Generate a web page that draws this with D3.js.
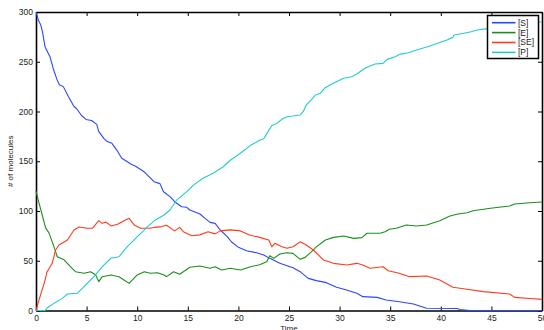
<!DOCTYPE html>
<html>
<head>
<meta charset="utf-8">
<script src="https://cdn.jsdelivr.net/npm/d3@7"></script>
<style>
  html, body { margin: 0; padding: 0; background: #fff; }
  svg { display: block; font-family: 'Liberation Sans', Arial, sans-serif; }
</style>
</head>
<body>
<div id="chart"></div>
<script>
// [time, molecules] pairs
const substrate = [[0,300],[0.23,292],[0.47,287],[0.66,279],[0.89,265],[1.38,255],[1.71,243],[2.04,233],[2.3,227],[2.7,225],[3.2,215],[3.75,205],[4.0,203],[4.5,196],[4.94,192],[5.5,191],[6.0,187],[6.2,180],[6.7,173],[7.0,170],[7.5,168],[8.0,161],[8.47,153],[8.96,150],[9.4,147],[9.85,145],[10.67,139.5],[11.66,129.5],[12.25,127.5],[12.6,119.4],[13.24,114.4],[13.7,109.3],[14.4,104.3],[14.9,103.7],[15.2,101],[16.2,97],[16.7,92.6],[17.2,88.6],[17.7,87.6],[18.2,80.9],[18.9,74.2],[19.3,69.1],[20,63.5],[20.8,60],[21.8,58],[22.5,55.8],[23.1,52.4],[24.1,47.4],[25.1,44],[25.4,43],[26.1,39],[26.9,32.3],[27.7,30],[28.7,28],[29.7,23.3],[30.7,20.6],[31.7,17.3],[32.3,13.9],[33.7,13.2],[34.6,10.6],[35.9,8.8],[37.3,6.5],[37.9,4.5],[38.6,2.2],[41.6,2],[41.9,1],[42.9,0],[50,0]];

const enzyme = [[0,120],[0.3,108],[0.95,83],[1.28,78],[1.78,64],[2.1,54],[2.77,51],[3.4,44],[3.9,39],[4.74,37.4],[5.4,39],[5.9,35.7],[6.2,29],[6.55,34],[7.4,35.7],[8.2,34],[8.7,30.7],[9.2,27.3],[10,35.7],[10.7,39],[11.3,37.4],[12,38],[12.65,35.7],[12.9,34],[13.6,39],[14.2,36.5],[15.2,43.4],[16.2,44.7],[17.2,42.4],[17.7,44],[18.35,40.7],[19.2,42.4],[20.2,40.7],[21.2,44],[22.1,46],[22.8,49],[23.1,55],[23.5,52.4],[24.1,56.8],[24.8,58],[25.4,57.4],[26.1,51.4],[26.6,53.4],[27.2,59],[27.7,64],[28.6,70.9],[29.4,73.5],[30.4,74.9],[31.4,72.5],[32.2,73.2],[32.7,77.6],[34,77.6],[34.5,79.2],[34.9,81.6],[35.6,82.6],[36.6,85.9],[37.6,84.9],[38.6,85.9],[39.9,90.3],[40.9,95],[41.7,97],[42.6,98.3],[43.2,100.3],[44.9,102.7],[46.8,105],[47.3,107],[48.8,108.3],[50,109]];

const complex = [[0,0],[0.3,10.6],[0.8,27],[1.1,39],[1.6,47.4],[1.94,60.8],[2.27,65.8],[3.1,70.9],[3.75,80.9],[4.25,84],[5.07,82.6],[5.57,82.6],[6.2,90.3],[6.55,87.6],[6.9,89],[7.4,85],[8.07,86.6],[8.7,90.3],[9.2,92.6],[9.7,86],[10.34,82.6],[11.2,82.6],[11.66,83.5],[12.25,84],[12.9,85.6],[13.7,80],[14.2,83.5],[14.56,79.2],[15.4,75.2],[16.2,76],[17,79.2],[17.7,77],[18.2,80],[19.2,81],[20.2,80],[21.1,75.9],[22.1,73.5],[23,70.9],[23.3,64],[23.6,67.5],[24.3,64],[24.8,62.5],[25.4,64],[26.1,69],[26.7,65.8],[27.4,60.8],[28.4,50.8],[29.4,47.4],[30.7,45.7],[31.7,47.4],[32.3,45.7],[33,42.4],[34.3,44],[34.8,40],[35.9,37.4],[36.9,34],[38.6,34.7],[39.9,30.7],[41.2,23.3],[42.6,21.3],[44.2,19],[46.8,16.6],[47.3,13.2],[48.8,12],[50,11.2]];

const product = [[0,0],[0.9,0],[1.12,2.8],[1.78,7.2],[2.6,12.2],[3.1,16.6],[4.08,17.3],[4.74,24],[5.73,34],[6.55,44],[7.4,52.5],[8.2,54],[9.0,64],[10,74],[11,84],[11.8,91],[12.65,96],[13.24,101],[13.9,111],[14.9,119.4],[15.55,126],[16.5,132.9],[17.5,137.9],[18.5,144.5],[19.2,151],[20.2,158],[21.2,166],[22.1,171],[22.5,172.6],[23,181],[23.3,186],[23.8,188],[24.4,193],[24.9,195],[25.4,195.5],[26.1,196.5],[26.4,199.8],[26.7,206.5],[27.2,211.6],[27.6,216.6],[28.1,218.3],[28.5,223.3],[29.05,226.6],[29.7,230],[30.4,233.4],[31.2,235],[31.8,238.4],[32.5,243.4],[33.5,247.7],[34.3,248.4],[34.7,252.4],[35.5,255],[36,257.7],[36.8,259],[37.6,261.8],[38.7,265],[39.7,268.5],[40.6,271.9],[41.2,274.5],[41.3,276.9],[42.3,278.6],[43,280.2],[43.6,281.9],[44.4,283],[45.5,285],[47,287],[48.5,288.5],[49.9,290],[50,290]];

const seriesNames = ['[S]', '[E]', '[SE]', '[P]'];
const seriesColors = ['#2b46ff', '#1a8f1a', '#ff3a1a', '#22cccc'];
const xTicks = [0, 5, 10, 15, 20, 25, 30, 35, 40, 45, 50];
const yTicks = [0, 50, 100, 150, 200, 250, 300];

const width = 544;
const height = 330;
const plot = { left: 36, right: 542, top: 12, bottom: 310.5 };

const svg = d3
  .select('#chart')
  .append('svg')
  .attr('width', width)
  .attr('height', height);

const x = d3.scaleLinear().domain([0, 50]).range([plot.left, plot.right]);
const y = d3.scaleLinear().domain([0, 300]).range([plot.bottom, plot.top]);

// axes: ticks point inward, labels only on bottom and left
const tickLen = 4;

svg
  .append('g')
  .attr('transform', `translate(0, ${plot.bottom})`)
  .call(d3.axisBottom(x).tickValues(xTicks).tickSize(-tickLen).tickPadding(4.5).tickSizeOuter(0));

svg
  .append('g')
  .attr('transform', `translate(${plot.left}, 0)`)
  .call(d3.axisLeft(y).tickValues(yTicks).tickSize(-tickLen).tickPadding(3).tickSizeOuter(0));

svg
  .append('g')
  .attr('transform', `translate(0, ${plot.top})`)
  .call(d3.axisTop(x).tickValues(xTicks).tickSize(-tickLen).tickFormat('').tickSizeOuter(0));

svg
  .append('g')
  .attr('transform', `translate(${plot.right}, 0)`)
  .call(d3.axisRight(y).tickValues(yTicks).tickSize(-tickLen).tickFormat('').tickSizeOuter(0));

svg.selectAll('.domain').attr('stroke', '#000').attr('stroke-width', 1.6);
svg.selectAll('.tick line').attr('stroke', '#000').attr('stroke-width', 1);
svg
  .selectAll('.tick text')
  .attr('fill', '#222')
  .style('font-size', '8.5px')
  .style('font-family', "'Liberation Sans', Arial, sans-serif");

// traces
const line = d3
  .line()
  .x((d) => x(d[0]))
  .y((d) => y(d[1]));

const traces = [substrate, enzyme, complex, product];

svg
  .append('g')
  .selectAll('path')
  .data(traces)
  .enter()
  .append('path')
  .attr('fill', 'none')
  .attr('stroke', (d, i) => seriesColors[i])
  .attr('stroke-width', 1.1)
  .attr('stroke-linejoin', 'round')
  .attr('d', line);

// axis titles
svg
  .append('text')
  .attr('x', (plot.left + plot.right) / 2)
  .attr('y', 331)
  .attr('text-anchor', 'middle')
  .attr('fill', '#222')
  .style('font-size', '8px')
  .text('Time');

svg
  .append('text')
  .attr('transform', `translate(13, ${(plot.top + plot.bottom) / 2}) rotate(-90)`)
  .attr('text-anchor', 'middle')
  .attr('fill', '#222')
  .style('font-size', '8px')
  .text('# of molecules');

// legend
const legend = svg.append('g').attr('transform', 'translate(487.5, 15.5)');

legend
  .append('rect')
  .attr('width', 51)
  .attr('height', 43)
  .attr('fill', '#fff')
  .attr('stroke', '#000')
  .attr('stroke-width', 1.5);

const rows = legend
  .selectAll('g')
  .data(seriesNames)
  .enter()
  .append('g')
  .attr('transform', (d, i) => `translate(0, ${7.2 + i * 9.9})`);

rows
  .append('line')
  .attr('x1', 4.5)
  .attr('x2', 28)
  .attr('stroke', (d, i) => seriesColors[i])
  .attr('stroke-width', 1.6);

rows
  .append('text')
  .attr('x', 30.5)
  .attr('dy', '0.35em')
  .attr('fill', '#222')
  .style('font-size', '8.5px')
  .text((d) => d);
</script>
</body>
</html>
